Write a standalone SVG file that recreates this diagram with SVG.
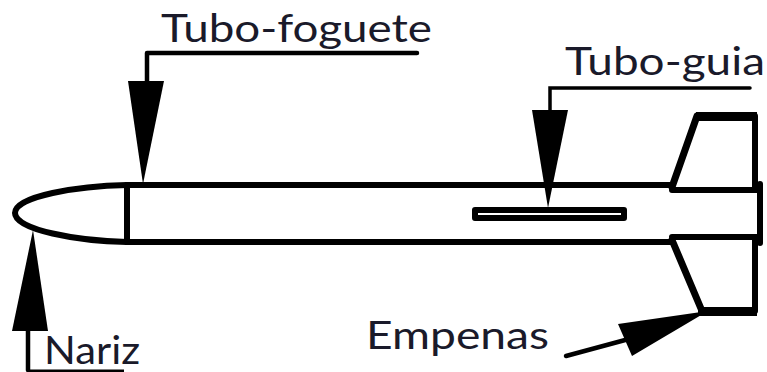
<svg xmlns="http://www.w3.org/2000/svg" width="767" height="372" viewBox="0 0 767 372">
<style>
.b{fill:none;stroke:#000;stroke-width:6;stroke-linejoin:round;stroke-linecap:round}
.f{fill:none;stroke:#000;stroke-width:7;stroke-linejoin:round;stroke-linecap:round}
.l{fill:none;stroke:#000;stroke-width:4.5;stroke-linejoin:round;stroke-linecap:round}
.a{fill:#000;stroke:none}
text{font-family:Lato,"Liberation Sans",Arial,sans-serif;fill:#1a1a2a;font-size:39px}
</style>
<rect width="767" height="372" fill="#fff"/>
<g id="foguete">
<path class="b" d="M127 185H672"/>
<path class="b" d="M127 242H672"/>
<path class="b" d="M672 190H760V237H672"/>
<path class="b" d="M760 184V243"/>
<path class="b" d="M127 185V242"/>
<path class="b" d="M127 185C78 186 15 196 15 213C15 230 78 241 127 242"/>
<path class="f" d="M672 187L697 116"/>
<path class="b" d="M697 116H755V190"/>
<path d="M696 112H757V121H696Z" class="a"/>
<path class="f" d="M672 240L702 311"/>
<path class="b" d="M755 237V311"/>
<path d="M698 307H757V316H698Z" class="a"/>
<rect class="b" x="475" y="210" width="149" height="8"/>
</g>
<g id="conectores">
<path class="l" d="M147 85V53H417"/>
<path class="a" d="M128 81H164L143 184Z"/>
<path d="M550 115V88H750" fill="none" stroke="#000" stroke-width="3.5" stroke-linecap="round"/>
<path class="a" d="M532 110H568L548 208Z"/>
<path class="l" d="M28 370V328"/>
<path d="M28 371H124" fill="none" stroke="#000" stroke-width="3"/>
<path class="a" d="M12 331H48L33 230Z"/>
<path class="l" d="M566 356L640 336"/>
<path class="a" d="M618 324L708 311L632 356Z"/>
</g>
<g id="tubo-foguete"><text x="161" y="42" textLength="271" lengthAdjust="spacingAndGlyphs">Tubo-foguete</text></g>
<g id="tubo-guia"><text x="565" y="75" textLength="200" lengthAdjust="spacingAndGlyphs">Tubo-guia</text></g>
<g id="nariz"><text x="44" y="364" textLength="96" lengthAdjust="spacingAndGlyphs">Nariz</text></g>
<g id="empenas"><text x="366" y="349" textLength="183" lengthAdjust="spacingAndGlyphs">Empenas</text></g>
</svg>
